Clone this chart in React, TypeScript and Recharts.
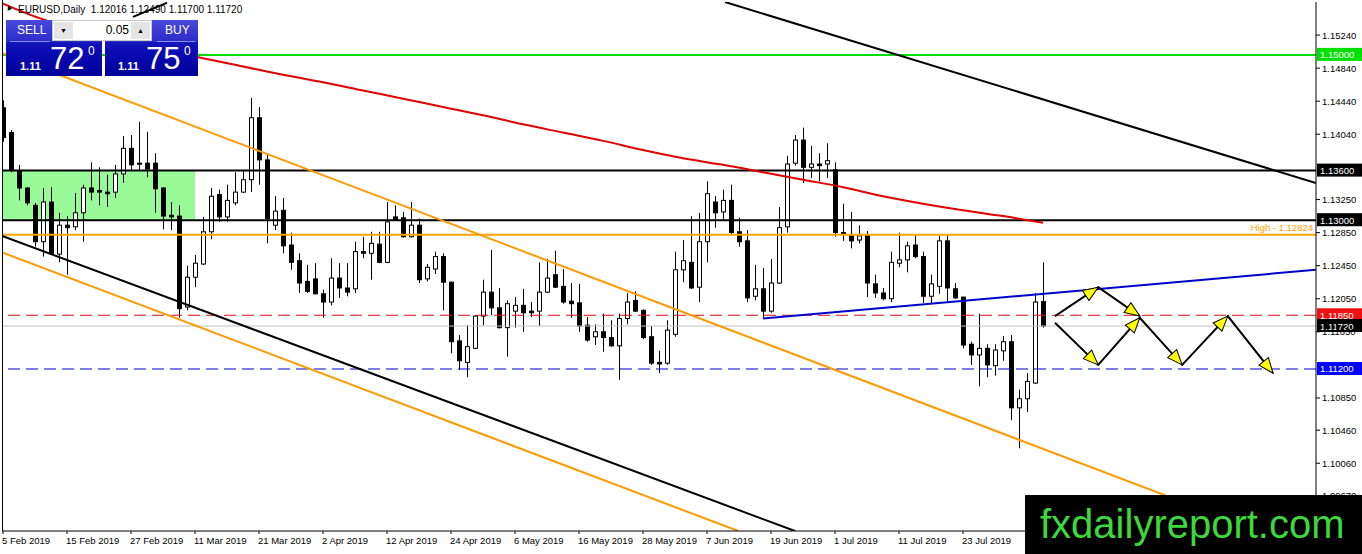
import React from "react";
import {
  ComposedChart,
  XAxis,
  YAxis,
  Bar,
  Line,
  Scatter,
  ReferenceLine,
  ReferenceArea,
} from "recharts";

const W = 1362;
const H = 554;
const MARGIN = { top: 2, right: 0, bottom: 0, left: 2 };
const Y_AXIS_W = 46;
const X_AXIS_H = 23;
const X_DOMAIN: [number, number] = [-0.125, 164.125];
const Y_DOMAIN: [number, number] = [1.0924, 1.1564];
const PX_PER_BAR = (W - MARGIN.left - MARGIN.right - Y_AXIS_W) / (X_DOMAIN[1] - X_DOMAIN[0]);
const PX_PER_PRICE = (H - MARGIN.top - MARGIN.bottom - X_AXIS_H) / (Y_DOMAIN[1] - Y_DOMAIN[0]);
const FONT = '"Liberation Sans", Arial, sans-serif';

// EURUSD daily, 5 Feb 2019 .. 6 Aug 2019
const OPEN = [
  1.1436, 1.1406, 1.136, 1.1339, 1.1318, 1.1274, 1.1322, 1.1259, 1.1294, 1.1292,
  1.1309, 1.1339, 1.1336, 1.1334, 1.1334, 1.1356, 1.1387, 1.1369, 1.1369, 1.1369,
  1.1339, 1.1306, 1.1305, 1.1195, 1.1231, 1.1247, 1.1286, 1.1331, 1.1304, 1.1321,
  1.1334, 1.1349, 1.1424, 1.1373, 1.1294, 1.1312, 1.127, 1.1251, 1.1226, 1.1229,
  1.1211, 1.1201, 1.123, 1.1218, 1.1217, 1.1262, 1.126, 1.1271, 1.1249, 1.1304,
  1.1303, 1.128, 1.1294, 1.1229, 1.1241, 1.1256, 1.1225, 1.1154, 1.1128, 1.1145,
  1.1184, 1.1213, 1.1194, 1.117, 1.119, 1.1197, 1.119, 1.119, 1.1213, 1.1234,
  1.122, 1.1202, 1.12, 1.1173, 1.1159, 1.1165, 1.1158, 1.1148, 1.1181, 1.1203,
  1.1191, 1.1159, 1.1128, 1.1127, 1.1162, 1.124, 1.1249, 1.1219, 1.1274, 1.1322,
  1.131, 1.1324, 1.1286, 1.1275, 1.1208, 1.1217, 1.119, 1.1224, 1.1292, 1.1369,
  1.1397, 1.1364, 1.1368, 1.1368, 1.1361, 1.1285, 1.1281, 1.1276, 1.1282, 1.1223,
  1.1212, 1.1205, 1.1248, 1.1252, 1.127, 1.1256, 1.1208, 1.122, 1.1275, 1.1217,
  1.1207, 1.115, 1.1137, 1.1145, 1.1124, 1.1142, 1.1153, 1.1073, 1.1084, 1.1103,
  1.12016,
];
const HIGH = [
  1.1445, 1.1409, 1.1367, 1.134, 1.1321, 1.1339, 1.134, 1.1309, 1.1305, 1.1333,
  1.1343, 1.137, 1.1364, 1.1355, 1.1367, 1.1402, 1.1403, 1.1419, 1.1407, 1.1381,
  1.134, 1.1322, 1.1318, 1.1245, 1.1258, 1.1304, 1.1339, 1.1337, 1.1343, 1.1358,
  1.1361, 1.1448, 1.1437, 1.1379, 1.1329, 1.1327, 1.1285, 1.126, 1.1246, 1.1248,
  1.1216, 1.1254, 1.1248, 1.1248, 1.1274, 1.128, 1.1286, 1.1286, 1.1322, 1.1318,
  1.131, 1.1322, 1.1302, 1.1247, 1.1262, 1.126, 1.1226, 1.1161, 1.1173, 1.1185,
  1.1228, 1.1264, 1.1218, 1.1203, 1.1207, 1.1217, 1.1201, 1.1249, 1.1253, 1.1263,
  1.1241, 1.1224, 1.1223, 1.1183, 1.1174, 1.1187, 1.1179, 1.1187, 1.1212, 1.1214,
  1.1192, 1.1172, 1.1142, 1.1179, 1.1262, 1.1276, 1.1305, 1.1309, 1.1347, 1.1329,
  1.1337, 1.1343, 1.1303, 1.1288, 1.1246, 1.1242, 1.1253, 1.1316, 1.1378, 1.1403,
  1.1412, 1.139, 1.1381, 1.1393, 1.137, 1.132, 1.131, 1.1294, 1.1287, 1.1234,
  1.1218, 1.1262, 1.1285, 1.1274, 1.1282, 1.1262, 1.1234, 1.1281, 1.1282, 1.1224,
  1.1207, 1.1153, 1.1187, 1.115, 1.115, 1.116, 1.1161, 1.1095, 1.1115, 1.1212,
  1.1249,
];
const LOW = [
  1.1395, 1.1358, 1.1324, 1.1318, 1.1268, 1.1256, 1.1258, 1.1249, 1.1234, 1.1288,
  1.1274, 1.1324, 1.1318, 1.1316, 1.1327, 1.1345, 1.1361, 1.1361, 1.1352, 1.1309,
  1.1289, 1.1288, 1.1182, 1.1191, 1.1219, 1.1246, 1.1277, 1.1298, 1.1298, 1.1318,
  1.1333, 1.1334, 1.1343, 1.1272, 1.1288, 1.126, 1.124, 1.1212, 1.1212, 1.121,
  1.1182, 1.1197, 1.1206, 1.1208, 1.1212, 1.1254, 1.1228, 1.1248, 1.1248, 1.1299,
  1.1279, 1.1279, 1.1224, 1.1226, 1.1235, 1.1191, 1.1139, 1.1119, 1.111, 1.1144,
  1.1173, 1.1185, 1.1169, 1.1135, 1.117, 1.1165, 1.1183, 1.1172, 1.1212, 1.1218,
  1.1199, 1.1182, 1.1165, 1.1153, 1.1149, 1.1141, 1.1147, 1.1107, 1.1174, 1.1189,
  1.1156, 1.1125, 1.1115, 1.1125, 1.1159, 1.1225, 1.1217, 1.1201, 1.1249, 1.1291,
  1.13, 1.1282, 1.1268, 1.1201, 1.1203, 1.1182, 1.1188, 1.1223, 1.1285, 1.1366,
  1.1345, 1.1351, 1.1347, 1.1351, 1.128, 1.1275, 1.1266, 1.1272, 1.1207, 1.1206,
  1.1203, 1.1201, 1.1243, 1.1237, 1.1254, 1.12, 1.12, 1.1211, 1.1202, 1.1205,
  1.1145, 1.1125, 1.1099, 1.111, 1.1112, 1.113, 1.1058, 1.1024, 1.1068, 1.1102,
  1.117,
];
const CLOSE = [
  1.14, 1.1361, 1.1339, 1.1321, 1.1274, 1.1322, 1.126, 1.1294, 1.1291, 1.1309,
  1.1339, 1.1334, 1.1334, 1.1332, 1.1356, 1.1387, 1.1367, 1.1368, 1.1362, 1.1338,
  1.1305, 1.1304, 1.1193, 1.1231, 1.1248, 1.1286, 1.1329, 1.1304, 1.1324, 1.1334,
  1.1349, 1.1424, 1.1373, 1.1302, 1.1311, 1.1269, 1.1249, 1.1224, 1.1214, 1.1211,
  1.1201, 1.123, 1.1218, 1.1213, 1.1262, 1.126, 1.1272, 1.1249, 1.1298, 1.13,
  1.128, 1.1294, 1.1228, 1.1243, 1.1256, 1.1225, 1.1153, 1.113, 1.1147, 1.1184,
  1.1213, 1.1194, 1.117, 1.1199, 1.1197, 1.1188, 1.1188, 1.1213, 1.123, 1.1219,
  1.1201, 1.1199, 1.1172, 1.1155, 1.1165, 1.1158, 1.1148, 1.1181, 1.1201, 1.119,
  1.1158, 1.1127, 1.1126, 1.1167, 1.124, 1.1251, 1.1218, 1.1274, 1.1332, 1.1309,
  1.1324, 1.1285, 1.1274, 1.1206, 1.1217, 1.119, 1.1224, 1.1291, 1.1368, 1.1397,
  1.1364, 1.1368, 1.1366, 1.1372, 1.1285, 1.1283, 1.1275, 1.1281, 1.1224, 1.1212,
  1.1205, 1.1249, 1.1252, 1.1269, 1.1256, 1.1208, 1.1223, 1.1275, 1.1218, 1.1206,
  1.1149, 1.1137, 1.1145, 1.1125, 1.1143, 1.1153, 1.1073, 1.1084, 1.1105, 1.1201,
  1.1172,
];

// red moving average, read every 5 bars
const MA_BARS = [0, 5, 10, 15, 20, 25, 30, 35, 40, 45, 50, 55, 60, 65, 70, 75, 80, 85, 90, 95, 100, 105, 110, 115, 120, 125, 130];
const MA_VALUES = [
  1.1562, 1.1543, 1.1531, 1.1519, 1.1507, 1.1496, 1.1486, 1.1476, 1.1467, 1.1457,
  1.1447, 1.1437, 1.1427, 1.1416, 1.1406, 1.1396, 1.1385, 1.1375, 1.1367, 1.1358,
  1.1349, 1.134, 1.1329, 1.132, 1.1312, 1.1305, 1.1297,
];

const DATE_TICKS = [0, 8, 16, 24, 32, 40, 48, 56, 64, 72, 80, 88, 96, 104, 112, 120];
const DATE_LABELS = [
  "5 Feb 2019", "15 Feb 2019", "27 Feb 2019", "11 Mar 2019", "21 Mar 2019",
  "2 Apr 2019", "12 Apr 2019", "24 Apr 2019", "6 May 2019", "16 May 2019",
  "28 May 2019", "7 Jun 2019", "19 Jun 2019", "1 Jul 2019", "11 Jul 2019",
  "23 Jul 2019",
];
const PRICE_TICKS = [1.1524, 1.1484, 1.1444, 1.1404, 1.1325, 1.1285, 1.1245, 1.1205, 1.1165, 1.1085, 1.1046, 1.1006, 1.0967];

// horizontal levels: [price, colour, dashed]
const LEVELS: [number, string, boolean][] = [
  [1.15, "#00dd00", false],
  [1.136, "#000000", false],
  [1.13, "#000000", false],
  [1.1185, "#e01010", true],
  [1.1172, "#c0c0c0", false],
  [1.112, "#0000cc", true],
];
const LEVEL_TAG_BG = ["#00e000", "#000000", "#000000", "#ee1111", "#000000", "#0000ff"];
const HIGH_LEVEL = 1.12824;

// trend lines: [bar, price] -> [bar, price]
const TRENDS: { from: [number, number]; to: [number, number]; color: string }[] = [
  { from: [90.25, 1.1564], to: [164.1, 1.1345], color: "#000000" },
  { from: [-0.1, 1.1281], to: [99, 1.0924], color: "#000000" },
  { from: [16.25, 1.1546], to: [20.5, 1.1563], color: "#000000" },
  { from: [-0.1, 1.1502], to: [157, 1.0924], color: "#ff9900" },
  { from: [-0.1, 1.1261], to: [91.9, 1.0924], color: "#ff9900" },
  { from: [95, 1.1181], to: [164.1, 1.124], color: "#0000cc" },
];
const ZONE = { x1: -0.125, x2: 24, y1: 1.13, y2: 1.136 };

// projected zig-zag paths
const PATH_UPPER = [
  { i: 131.5, p: 1.1184 },
  { i: 136.9, p: 1.1219 },
  { i: 142.1, p: 1.1184 },
];
const PATH_LOWER = [
  { i: 131.5, p: 1.1176 },
  { i: 136.9, p: 1.1125 },
  { i: 142.1, p: 1.1182 },
  { i: 147.4, p: 1.1125 },
  { i: 153.1, p: 1.1184 },
  { i: 158.75, p: 1.1115 },
];

const candles = OPEN.map((o, i) => ({ i, o, h: HIGH[i], l: LOW[i], c: CLOSE[i] }));
const maData = MA_BARS.map((i, k) => ({ i, p: MA_VALUES[k] }));
const heads = [PATH_UPPER, PATH_LOWER].flatMap((path) =>
  path.slice(1).map((pt, k) => ({ ...pt, fi: path[k].i, fp: path[k].p }))
);

function Candle(props: any) {
  const { x, y, width, height, payload } = props;
  if (x == null || !payload) return null;
  const top = Math.min(y, y + height);
  const h = Math.abs(height);
  const { o, c, h: hi, l: lo } = payload;
  const toY = (v: number) => top + ((hi - v) / (hi - lo || 1)) * h;
  const cx = Math.round(x + width / 2) + 0.5;
  const yo = toY(o);
  const yc = toY(c);
  const bTop = Math.min(yo, yc);
  const bH = Math.max(1, Math.abs(yc - yo));
  return (
    <g>
      <line x1={cx} x2={cx} y1={top} y2={top + h} stroke="#000" strokeWidth={1} />
      <rect
        x={cx - 2}
        y={bTop}
        width={4}
        height={bH}
        fill={c > o ? "#fff" : "#000"}
        stroke="#000"
        strokeWidth={1}
      />
    </g>
  );
}

function ArrowHead(props: any) {
  const { cx, cy, payload } = props;
  if (cx == null) return null;
  const dx = (payload.i - payload.fi) * PX_PER_BAR;
  const dy = -(payload.p - payload.fp) * PX_PER_PRICE;
  const a = (Math.atan2(dy, dx) * 180) / Math.PI;
  return (
    <polygon
      points="0,0 -15,-6 -15,6"
      transform={`translate(${cx},${cy}) rotate(${a})`}
      fill="#ffff00"
      stroke="#000"
      strokeWidth={1}
    />
  );
}

function PriceTick({ x, y, payload }: any) {
  return (
    <text x={x} y={y + 3.5} fontSize={9.5} fontFamily={FONT} fill="#000" textAnchor="start">
      {payload.value.toFixed(5)}
    </text>
  );
}

function DateTick({ x, y, payload }: any) {
  const k = DATE_TICKS.indexOf(payload.value);
  return (
    <text x={x - 1} y={y + 8} fontSize={9.5} fontFamily={FONT} fill="#000" textAnchor="start">
      {DATE_LABELS[k]}
    </text>
  );
}

const levelTag = (price: number, bg: string) => (p: any) => {
  const vb = p.viewBox || {};
  const x = vb.x + vb.width + 1;
  return (
    <g>
      <rect x={x} y={vb.y - 7} width={45} height={13} fill={bg} />
      <text x={x + 3} y={vb.y + 3.5} fontSize={9.5} fontFamily={FONT} fill="#fff">
        {price.toFixed(5)}
      </text>
    </g>
  );
};

const highTag = (p: any) => {
  const vb = p.viewBox || {};
  return (
    <text x={vb.x + vb.width - 3} y={vb.y - 4} fontSize={9.5} fontFamily={FONT} fill="#ffa500" textAnchor="end">
      {`High - ${HIGH_LEVEL.toFixed(5)}`}
    </text>
  );
};

function TradePanel() {
  const top = "linear-gradient(#4848dc, #2c2cc8)";
  const price = "linear-gradient(#3030d4, #0c0cb4 55%, #00009a)";
  const big = { position: "absolute" as const, color: "#fff", fontFamily: FONT };
  return (
    <>
      <div style={{ position: "absolute", left: 6, top: 20, width: 96, height: 56, background: price }}>
        <div style={{ position: "absolute", left: 0, top: 0, width: 96, height: 22, background: top }} />
        <div style={{ ...big, left: 11, top: 3, fontSize: 12 }}>SELL</div>
        <div style={{ position: "absolute", left: 4, top: 21, width: 40, height: 1, background: "#8c8cf0" }} />
        <div style={{ ...big, left: 14, top: 40, fontSize: 11, fontWeight: "bold" }}>1.11</div>
        <div style={{ ...big, left: 44, top: 21, fontSize: 31 }}>72</div>
        <div style={{ ...big, left: 82, top: 24, fontSize: 12 }}>0</div>
      </div>
      <div style={{ position: "absolute", left: 105, top: 20, width: 93, height: 56, background: price }}>
        <div style={{ position: "absolute", left: 0, top: 0, width: 93, height: 22, background: top }} />
        <div style={{ ...big, left: 60, top: 3, fontSize: 12 }}>BUY</div>
        <div style={{ position: "absolute", left: 52, top: 21, width: 38, height: 1, background: "#8c8cf0" }} />
        <div style={{ ...big, left: 13, top: 40, fontSize: 11, fontWeight: "bold" }}>1.11</div>
        <div style={{ ...big, left: 41, top: 21, fontSize: 31 }}>75</div>
        <div style={{ ...big, left: 79, top: 24, fontSize: 12 }}>0</div>
      </div>
      <div
        style={{
          position: "absolute",
          left: 52,
          top: 20,
          width: 100,
          height: 21,
          background: "#fff",
          border: "1px solid #c8c8c8",
          boxSizing: "border-box",
          fontFamily: FONT,
        }}
      >
        <div style={{ position: "absolute", left: 1, top: 1, width: 19, height: 17, background: "#e4e4e4", fontSize: 7, textAlign: "center", lineHeight: "17px" }}>▼</div>
        <div style={{ position: "absolute", right: 22, top: 2, fontSize: 12 }}>0.05</div>
        <div style={{ position: "absolute", right: 1, top: 1, width: 19, height: 17, background: "#e4e4e4", fontSize: 7, textAlign: "center", lineHeight: "17px" }}>▲</div>
      </div>
    </>
  );
}

export default function App() {
  return (
    <div style={{ position: "relative", width: W, height: H, background: "#fff", overflow: "hidden", fontFamily: FONT }}>
      <style>{"body{margin:0}"}</style>
      <ComposedChart width={W} height={H} data={candles} margin={MARGIN}>
        <XAxis
          dataKey="i"
          type="number"
          domain={X_DOMAIN}
          allowDataOverflow
          ticks={DATE_TICKS}
          interval={0}
          height={X_AXIS_H}
          tick={<DateTick />}
          tickSize={3}
          axisLine={{ stroke: "#000" }}
          tickLine={{ stroke: "#000" }}
        />
        <YAxis
          orientation="right"
          type="number"
          domain={Y_DOMAIN}
          allowDataOverflow
          ticks={PRICE_TICKS}
          interval={0}
          width={Y_AXIS_W}
          tick={<PriceTick />}
          tickSize={4}
          tickMargin={2}
          axisLine={{ stroke: "#000" }}
          tickLine={{ stroke: "#000" }}
        />
        <ReferenceArea
          x1={ZONE.x1}
          x2={ZONE.x2}
          y1={ZONE.y1}
          y2={ZONE.y2}
          fill="#98fb98"
          fillOpacity={1}
          stroke="none"
          ifOverflow="hidden"
        />
        <Bar dataKey={(d: any) => [d.l, d.h]} barSize={5} shape={<Candle />} isAnimationActive={false} />
        <ReferenceLine y={HIGH_LEVEL} stroke="#ffa500" strokeWidth={2} label={highTag} ifOverflow="visible" />
        {LEVELS.map(([price, color, dashed], k) => (
          <ReferenceLine
            key={price}
            y={price}
            stroke={color}
            strokeWidth={dashed || color === "#c0c0c0" ? 1 : 2}
            strokeDasharray={dashed ? "12 6" : undefined}
            label={levelTag(price, LEVEL_TAG_BG[k])}
            ifOverflow="visible"
          />
        ))}
        {TRENDS.map((t, k) => (
          <ReferenceLine
            key={k}
            segment={[
              { x: t.from[0], y: t.from[1] },
              { x: t.to[0], y: t.to[1] },
            ]}
            stroke={t.color}
            strokeWidth={2}
            ifOverflow="hidden"
          />
        ))}
        <Line data={maData} dataKey="p" type="monotone" stroke="#e00000" strokeWidth={2} dot={false} isAnimationActive={false} />
        <Line data={PATH_UPPER} dataKey="p" type="linear" stroke="#000" strokeWidth={2} dot={false} isAnimationActive={false} />
        <Line data={PATH_LOWER} dataKey="p" type="linear" stroke="#000" strokeWidth={2} dot={false} isAnimationActive={false} />
        <Scatter data={heads} dataKey="p" shape={<ArrowHead />} isAnimationActive={false} />
      </ComposedChart>

      <div style={{ position: "absolute", left: 2, top: 0, width: 1, height: 531, background: "#000" }} />
      <div style={{ position: "absolute", left: 5, top: 3, fontSize: 8, color: "#000", transform: "rotate(-20deg)" }}>▲</div>
      <div style={{ position: "absolute", left: 18, top: 4, fontSize: 10, color: "#000", whiteSpace: "pre" }}>
        {"EURUSD,Daily  1.12016 1.12490 1.11700 1.11720"}
      </div>
      <TradePanel />
      <div
        style={{
          position: "absolute",
          left: 1025,
          top: 495,
          width: 337,
          height: 59,
          background: "#000",
          color: "#3cd83c",
          fontSize: 40,
          lineHeight: "59px",
          paddingLeft: 15,
          boxSizing: "border-box",
          whiteSpace: "nowrap",
        }}
      >
        fxdailyreport.com
      </div>
    </div>
  );
}
